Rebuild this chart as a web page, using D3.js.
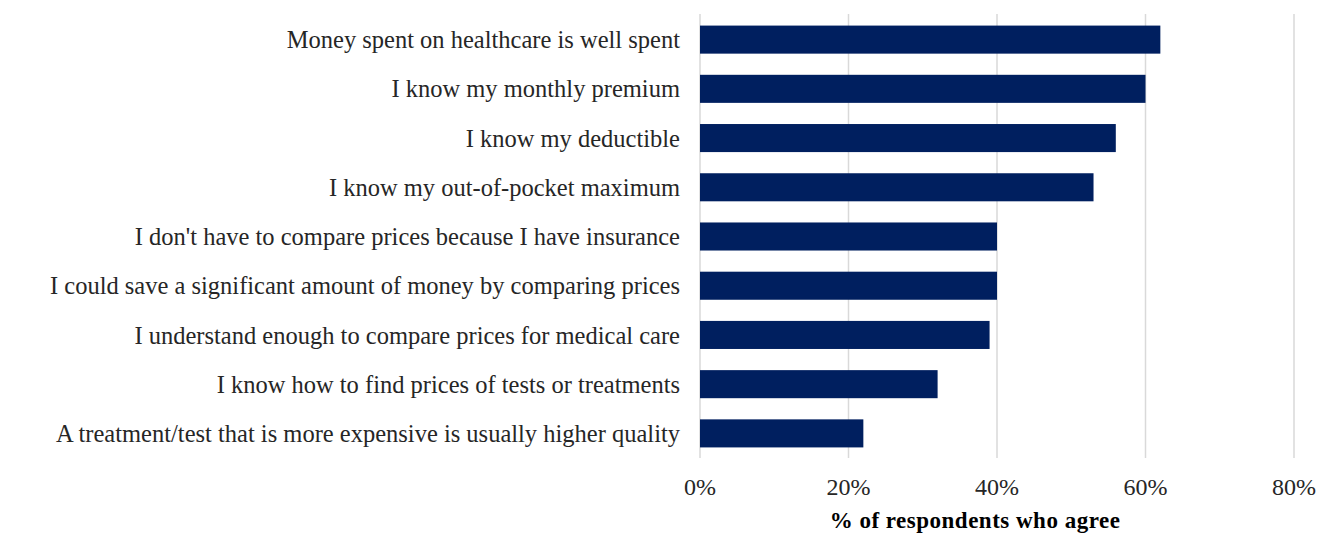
<!DOCTYPE html>
<html>
<head>
<meta charset="utf-8">
<script src="https://cdn.jsdelivr.net/npm/d3@7"></script>
<style>
  body { margin: 0; background: #fff; }
  svg { display: block; }
</style>
</head>
<body>
<div id="chart"></div>
<script>
const statements = [
    "Money spent on healthcare is well spent",
    "I know my monthly premium",
    "I know my deductible",
    "I know my out-of-pocket maximum",
    "I don't have to compare prices because I have insurance",
    "I could save a significant amount of money by comparing prices",
    "I understand enough to compare prices for medical care",
    "I know how to find prices of tests or treatments",
    "A treatment/test that is more expensive is usually higher quality"
];
const agreeShare = [0.62, 0.60, 0.56, 0.53, 0.40, 0.40, 0.39, 0.32, 0.22];
const tickValues = [0, 0.2, 0.4, 0.6, 0.8];
const axisTitle = "% of respondents who agree";

const width = 1326, height = 535;
const margin = { top: 15, right: 32, bottom: 77, left: 700 };
const serif = "'Liberation Serif', 'Times New Roman', serif";

const rows = statements.map((s, i) => ({ label: s, value: agreeShare[i] }));

const svg = d3.select("#chart")
    .append("svg")
    .attr("width", width)
    .attr("height", height);

const x = d3.scaleLinear()
    .domain([0, 0.8])
    .range([margin.left, width - margin.right]);

const y = d3.scaleBand()
    .domain(statements)
    .range([margin.top, height - margin.bottom])
    .paddingInner(0.43)
    .paddingOuter(0.215);

// gridlines
svg.append("g")
    .selectAll("line")
    .data(tickValues)
    .join("line")
    .attr("x1", d => x(d))
    .attr("x2", d => x(d))
    .attr("y1", margin.top - 1)
    .attr("y2", height - margin.bottom)
    .attr("stroke", "#d9d9d9")
    .attr("stroke-width", 1.5);

// bars
svg.append("g")
    .selectAll("rect")
    .data(rows)
    .join("rect")
    .attr("x", x(0))
    .attr("y", d => y(d.label))
    .attr("width", d => x(d.value) - x(0))
    .attr("height", y.bandwidth())
    .attr("fill", "#001f5f");

// category labels
svg.append("g")
    .selectAll("text")
    .data(rows)
    .join("text")
    .attr("x", margin.left - 20)
    .attr("y", d => y(d.label) + y.bandwidth() / 2)
    .attr("dy", "0.35em")
    .attr("text-anchor", "end")
    .attr("font-family", serif)
    .attr("font-size", 24.5)
    .attr("fill", "#262626")
    .text(d => d.label);

// x tick labels
svg.append("g")
    .selectAll("text")
    .data(tickValues)
    .join("text")
    .attr("x", d => x(d))
    .attr("y", 495)
    .attr("text-anchor", "middle")
    .attr("font-family", serif)
    .attr("font-size", 24)
    .attr("fill", "#262626")
    .text(d3.format(".0%"));

// axis title
svg.append("text")
    .attr("x", 975)
    .attr("y", 528)
    .attr("text-anchor", "middle")
    .attr("font-family", serif)
    .attr("font-size", 23)
    .attr("font-weight", "bold")
    .attr("letter-spacing", 0.5)
    .attr("fill", "#000")
    .text(axisTitle);
</script>
</body>
</html>
